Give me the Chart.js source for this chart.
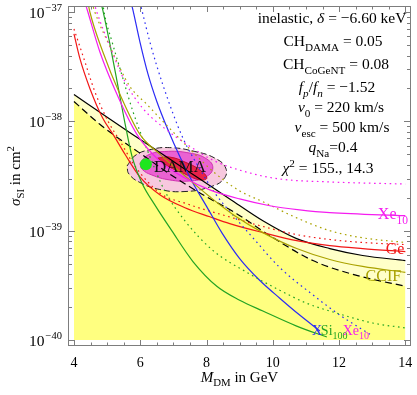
<!DOCTYPE html>
<html><head><meta charset="utf-8">
<script src="https://cdn.jsdelivr.net/npm/chart.js@4"></script>
<style>html,body{margin:0;padding:0;background:#fff;overflow:hidden}</style>
</head><body>
<canvas id="c" width="417" height="395"></canvas>
<script>
// ---------- data (M_DM in GeV, sigma_SI in cm^2) ----------
const M_blackSolid = [4.00,5.18,5.99,6.89,7.80,8.70,9.70,10.72,11.72,12.71,14.0];
const S_blackSolid = [1.76e-38,1.0e-38,6.86e-39,4.52e-39,2.97e-39,1.95e-39,1.23e-39,8.45e-40,6.86e-40,5.93e-40,5.33e-40];

const M_blackDashed = [4.0,4.78,5.18,5.99,6.89,7.80,8.91,9.91,11.21,12.53,14.0];
const S_blackDashed = [1.52e-38,9.4e-39,7.6e-39,5.12e-39,3.30e-39,2.21e-39,1.43e-39,9.0e-40,5.33e-40,3.9e-40,3.1e-40];

const M_xe10 = [4.33,4.42,4.78,5.30,5.90,6.59,7.35,8.10,9.0,9.91,10.81,11.72,14.0];
const S_xe10 = [1.23e-37,1.0e-37,4.33e-38,1.76e-38,7.6e-39,4.33e-39,3.03e-39,2.36e-39,1.95e-39,1.69e-39,1.55e-39,1.46e-39,1.37e-39];

const M_xe10Dot = [4.60,4.69,5.09,5.54,6.08,6.74,7.50,8.25,9.31,10.21,11.72,14.0];
const S_xe10Dot = [1.23e-37,1.0e-37,4.8e-38,2.31e-38,1.31e-38,8.6e-39,5.9e-39,4.33e-39,3.37e-39,2.97e-39,2.79e-39,2.67e-39];

const M_ccif = [4.42,4.48,4.87,5.39,5.99,6.59,7.35,8.10,8.85,9.70,10.72,11.72,12.71,14.0];
const S_ccif = [1.23e-37,1.0e-37,4.33e-38,1.76e-38,7.6e-39,5.01e-39,3.16e-39,2.04e-39,1.37e-39,9.6e-40,6.86e-40,5.45e-40,4.71e-40,4.15e-40];

const M_ccifDot = [4.54,4.63,5.09,5.69,6.20,6.74,7.50,8.25,9.0,9.70,10.72,11.72,12.71,14.0];
const S_ccifDot = [1.23e-37,1.0e-37,4.8e-38,2.08e-38,1.43e-38,9.6e-39,5.56e-39,3.37e-39,2.31e-39,1.84e-39,1.31e-39,1.0e-39,8.6e-40,7.8e-40];

const M_si = [4.81,4.87,5.09,5.33,5.54,5.75,6.05,6.44,6.95,7.59,8.31,9.0,9.70,10.72,11.63];
const S_si = [1.23e-37,1.04e-37,5.0e-38,2.08e-38,9.6e-39,4.8e-39,2.73e-39,1.72e-39,1.0e-39,5.22e-40,3.1e-40,2.31e-40,1.84e-40,1.34e-40,1.065e-40];

const M_siDot = [4.87,4.90,5.15,5.39,5.78,6.23,6.74,7.35,8.19,9.22,10.21,11.02,11.93,13.01,13.98];
const S_siDot = [1.23e-37,1.04e-37,5.33e-38,3.03e-38,1.23e-38,5.3e-39,2.31e-39,1.23e-39,6.6e-40,4.15e-40,2.85e-40,2.17e-40,1.76e-40,1.43e-40,1.29e-40];

const M_xe100 = [5.72,5.78,5.99,6.23,6.50,6.83,7.20,7.59,8.01,8.46,9.0,9.61,10.21,10.81,11.42];
const S_xe100 = [1.23e-37,1.04e-37,5.33e-38,2.73e-38,1.52e-38,8.45e-39,4.71e-39,2.73e-39,1.65e-39,9.6e-40,5.56e-40,3.5e-40,2.41e-40,1.69e-40,1.21e-40];

const M_xe100Dot = [5.99,6.05,6.29,6.68,7.29,7.80,8.25,8.76,9.40,10.21,11.11,12.02,13.01];
const S_xe100Dot = [1.23e-37,1.04e-37,5.33e-38,2.17e-38,7.0e-39,3.66e-39,2.21e-39,1.43e-39,8.6e-40,4.6e-40,2.73e-40,1.69e-40,1.09e-40];

const M_ge = [4.0,4.18,4.48,4.87,5.18,5.54,5.99,6.59,7.35,8.10,8.70,9.70,10.72,11.72,12.71,14.0];
const S_ge = [6.3e-38,3.74e-38,2.0e-38,1.065e-38,7.6e-39,5.0e-39,3.10e-39,2.13e-39,1.62e-39,1.34e-39,1.16e-39,9.6e-40,8.1e-40,7.3e-40,6.86e-40,6.44e-40];

const M_geDot = [4.0,4.30,4.63,5.03,5.39,5.84,6.59,7.41,8.79,9.52,10.72,11.72,12.71,14.0];
const S_geDot = [7.0e-38,3.74e-38,1.87e-38,1.0e-38,6.6e-39,3.9e-39,2.21e-39,1.76e-39,1.31e-39,1.13e-39,9.2e-40,8.3e-40,7.8e-40,7.46e-40];

// DAMA contours
const M_damaOuter = [5.60,5.84,6.29,6.89,7.65,8.25,8.58,8.52,8.10,7.35,6.59,5.99,5.66,5.60];
const S_damaOuter = [3.9e-39,4.85e-39,5.5e-39,5.75e-39,5.3e-39,4.61e-39,3.74e-39,2.97e-39,2.51e-39,2.28e-39,2.38e-39,2.76e-39,3.30e-39,3.9e-39];
const M_damaMid = [5.99,6.23,6.74,7.50,8.01,8.19,7.98,7.50,6.89,6.35,6.05,5.99];
const S_damaMid = [4.15e-39,4.91e-39,5.3e-39,5.12e-39,4.52e-39,3.74e-39,3.10e-39,2.85e-39,2.91e-39,3.23e-39,3.66e-39,4.15e-39];
const M_damaIn = [6.53,6.89,7.35,7.80,8.01,7.80,7.35,6.83,6.53];
const S_damaIn = [4.61e-39,4.71e-39,4.24e-39,3.59e-39,3.03e-39,2.91e-39,3.30e-39,3.9e-39,4.61e-39];
const M_cogent = [6.17];
const S_cogent = [4.06e-39];

const xTickLabels = [4,6,8,10,12,14];
const yDecades = [-40,-39,-38,-37];

// ---------- styles ----------
const SERIF = '"Liberation Serif","Times New Roman",serif';
const C = {blue:'#2b2bf5', green:'#23a323', magenta:'#f51cf0', red:'#f21616', olive:'#aaa200', black:'#000'};
const pts = (m,s) => m.map((x,i)=>({x, y:s[i]}));
const DOT = [1.6,3.6];

function line(m,s,color,dash,order){
  return {data:pts(m,s), borderColor:color, borderWidth:1.2, borderDash:dash||[], pointRadius:0,
    fill:false, cubicInterpolationMode:'monotone', order:order||10};
}
function shape(m,s,bg,border,dash,order){
  return {data:pts(m,s), borderColor:border, backgroundColor:bg, borderWidth:1, borderDash:dash||[],
    pointRadius:0, fill:'shape', tension:0.45, order};
}

const datasets = [
  {data:pts(M_blackSolid,S_blackSolid), borderWidth:0, pointRadius:0, backgroundColor:'#ffffc8', fill:{value:1e-40}, cubicInterpolationMode:'monotone', order:100},
  {data:pts(M_blackDashed,S_blackDashed), borderWidth:0, pointRadius:0, backgroundColor:'#ffff80', fill:{value:1e-40}, cubicInterpolationMode:'monotone', order:99},
  shape(M_damaOuter,S_damaOuter,'#f7c8de','#222',[6,3],60),
  shape(M_damaMid,S_damaMid,'#ea62d2','#d030b0',[],59),
  shape(M_damaIn,S_damaIn,'#e8224a','#c01030',[],58),
  line(M_blackSolid,S_blackSolid,C.black,[],20),
  line(M_blackDashed,S_blackDashed,C.black,[7,4],20),
  line(M_xe10,S_xe10,C.magenta),
  line(M_xe10Dot,S_xe10Dot,C.magenta,DOT),
  line(M_ccif,S_ccif,C.olive),
  line(M_ccifDot,S_ccifDot,C.olive,DOT),
  line(M_si,S_si,C.green),
  line(M_siDot,S_siDot,C.green,DOT),
  line(M_xe100,S_xe100,C.blue),
  line(M_xe100Dot,S_xe100Dot,C.blue,DOT),
  line(M_ge,S_ge,C.red),
  line(M_geDot,S_geDot,C.red,DOT),
  {data:pts(M_cogent,S_cogent), showLine:false, pointRadius:6, pointBackgroundColor:'#1ee61e', pointBorderWidth:0, order:1}
];

// rich text helper: segs [{t, i, sub, sup, c}], y = vertical centre of main text
function rich(ctx, segs, x, y, align, size, color){
  const parts = segs.map(s=>{
    const fs = (s.sub||s.sup) ? size*0.72 : size;
    const font = (s.i?'italic ':'') + fs + 'px ' + SERIF;
    ctx.font = font;
    return {s, font, w: ctx.measureText(s.t).width};
  });
  const W = parts.reduce((a,p)=>a+p.w,0);
  let cx = align==='center' ? x-W/2 : align==='right' ? x-W : x;
  const base = y + size*0.33;
  ctx.textAlign='left'; ctx.textBaseline='alphabetic';
  for(const p of parts){
    ctx.font = p.font; ctx.fillStyle = p.s.c || color || '#000';
    const dy = p.s.sub ? size*0.3 : p.s.sup ? -size*0.42 : 0;
    ctx.fillText(p.s.t, cx, base+dy);
    cx += p.w;
  }
}

const decor = {
  id:'decor',
  afterDatasetsDraw(chart){
    const {ctx, chartArea:a, scales:{x, y}} = chart;
    ctx.save();
    // DAMA label
    ctx.font = '17px '+SERIF; ctx.fillStyle='#111'; ctx.textAlign='center'; ctx.textBaseline='middle';
    ctx.fillText('DAMA', x.getPixelForValue(7.2), y.getPixelForValue(3.75e-39));
    // curve labels
    rich(ctx,[{t:'Xe'},{t:'10',sub:true}], x.getPixelForValue(13.17), y.getPixelForValue(1.43e-39),'left',16,C.magenta);
    rich(ctx,[{t:'Ge'}], x.getPixelForValue(13.41), y.getPixelForValue(6.86e-40),'left',16,C.red);
    rich(ctx,[{t:'CCIF'}], x.getPixelForValue(12.80), y.getPixelForValue(3.9e-40),'left',16,C.olive);
    rich(ctx,[{t:'X'}], x.getPixelForValue(11.18), y.getPixelForValue(1.23e-40),'left',14,C.blue);
    rich(ctx,[{t:'Si'},{t:'100',sub:true}], x.getPixelForValue(11.45), y.getPixelForValue(1.23e-40),'left',14,C.green);
    rich(ctx,[{t:'Xe'},{t:'10',sub:true}], x.getPixelForValue(12.11), y.getPixelForValue(1.23e-40),'left',14,C.magenta);

    // frame
    ctx.strokeStyle='#7d7d7d'; ctx.lineWidth=1;
    ctx.strokeRect(a.left+0.5, a.top+0.5, a.right-a.left-1, a.bottom-a.top-1);
    ctx.beginPath();
    for(let v=4; v<=14.001; v+=0.5){
      const px = Math.round(x.getPixelForValue(v))+0.5;
      const len = xTickLabels.includes(v) ? 6 : 3.5;
      ctx.moveTo(px,a.bottom); ctx.lineTo(px,a.bottom-len);
      ctx.moveTo(px,a.top); ctx.lineTo(px,a.top+len);
    }
    for(const d of yDecades){
      for(let k=1;k<=9;k++){
        const v = k*Math.pow(10,d);
        if(v < y.min || v > y.max) continue;
        const py = Math.round(y.getPixelForValue(v))+0.5;
        const len = k===1 ? 7 : 4;
        ctx.moveTo(a.left,py); ctx.lineTo(a.left+len,py);
        ctx.moveTo(a.right,py); ctx.lineTo(a.right-len,py);
      }
    }
    ctx.stroke();
    // tick labels
    ctx.fillStyle='#000';
    for(const v of xTickLabels){
      ctx.font='14px '+SERIF; ctx.textAlign='center'; ctx.textBaseline='middle';
      ctx.fillText(String(v), x.getPixelForValue(v), a.bottom+17);
    }
    for(const d of yDecades){
      const py = y.getPixelForValue(Math.pow(10,d));
      ctx.font='10.5px '+SERIF; ctx.textAlign='right'; ctx.textBaseline='alphabetic';
      const ew = ctx.measureText('\u2212'+(-d)).width;
      ctx.fillText('\u2212'+(-d), a.left-6, py-1);
      ctx.font='15.5px '+SERIF;
      ctx.fillText('10', a.left-7-ew, py+6);
    }
    // axis titles
    rich(ctx,[{t:'M',i:true},{t:'DM',sub:true},{t:' in GeV'}], (a.left+a.right)/2, 377,'center',15);
    ctx.save(); ctx.translate(15,(a.top+a.bottom)/2); ctx.rotate(-Math.PI/2);
    rich(ctx,[{t:'\u03c3',i:true},{t:'SI',sub:true},{t:' in cm'},{t:'2',sup:true}], 0, 0,'center',15);
    ctx.restore();
    // parameter box
    const cxp = 333, fs = 15.5;
    rich(ctx,[{t:'inelastic, '},{t:'\u03b4',i:true},{t:' = \u22126.60 keV'}], cxp-1, 18,'center',fs);
    rich(ctx,[{t:'CH'},{t:'DAMA',sub:true},{t:' = 0.05'}], cxp, 41,'center',fs);
    rich(ctx,[{t:'CH'},{t:'CoGeNT',sub:true},{t:' = 0.08'}], cxp+3, 64,'center',fs);
    rich(ctx,[{t:'f',i:true},{t:'p',i:true,sub:true},{t:'/'},{t:'f',i:true},{t:'n',i:true,sub:true},{t:' = \u22121.52'}], cxp+4, 87,'center',fs);
    rich(ctx,[{t:'v',i:true},{t:'0',sub:true},{t:' = 220 km/s'}], cxp+8, 107,'center',fs);
    rich(ctx,[{t:'v',i:true},{t:'esc',sub:true},{t:' = 500 km/s'}], cxp+9, 127,'center',fs);
    rich(ctx,[{t:'q',i:true},{t:'Na',sub:true},{t:'=0.4'}], cxp, 147,'center',fs);
    rich(ctx,[{t:'\u03c7',i:true},{t:'2',sup:true},{t:' = 155., 14.3'}], cxp-5, 168,'center',fs);
    ctx.restore();
  }
};

new Chart(document.getElementById('c'), {
  type:'line',
  data:{datasets},
  options:{
    responsive:false, animation:false, devicePixelRatio:1, events:[],
    layout:{padding:{left:0, right:6, top:4, bottom:0}},
    plugins:{legend:{display:false}, tooltip:{enabled:false}},
    scales:{
      x:{type:'linear', min:3.82, max:14.17, grid:{display:false}, border:{display:false},
         ticks:{display:false}, afterFit:s=>{s.height=49;}},
      y:{type:'logarithmic', min:Math.pow(10,-40.055), max:Math.pow(10,-36.945), grid:{display:false}, border:{display:false},
         ticks:{display:false}, afterFit:s=>{s.width=68;}}
    }
  },
  plugins:[decor]
});
</script>
</body></html>
